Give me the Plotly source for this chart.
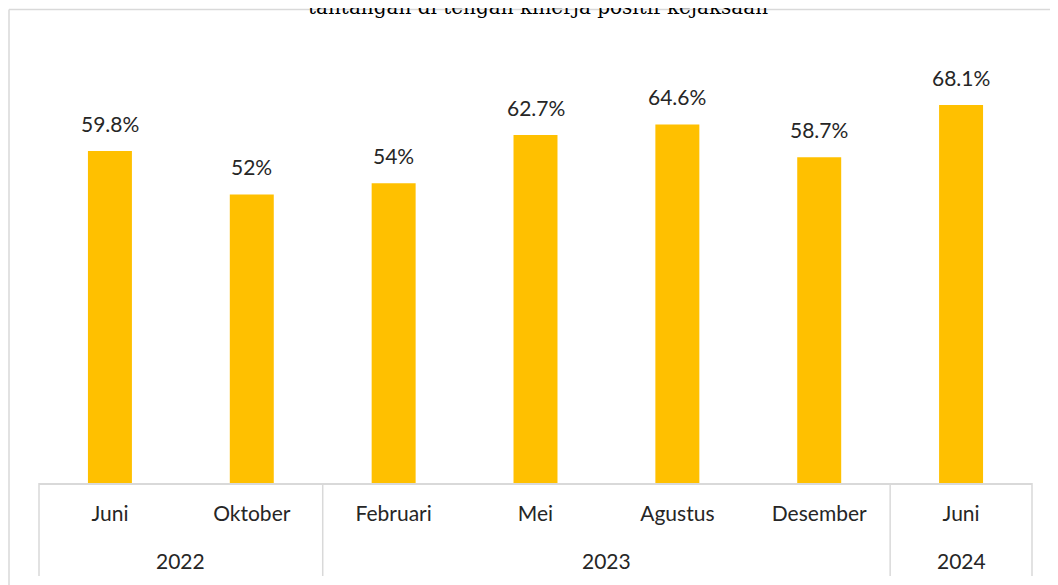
import plotly.graph_objects as go

months = ["Juni", "Oktober", "Februari", "Mei", "Agustus", "Desember", "Juni"]
years = ["2022", "2022", "2023", "2023", "2023", "2023", "2024"]
values = [59.8, 52, 54, 62.7, 64.6, 58.7, 68.1]
title_text = "tantangan di tengah kinerja positif kejaksaan"

labels = [f"{v:g}%" for v in values]
xs = list(range(len(values)))

W, H = 1058, 585
OFF = 8  # page body margin offset
ml, mr, mt, mb = 39 - OFF, 1058 - 1032 + OFF, 39 - OFF, 585 - 483 + OFF
pw, ph = W - ml - mr, H - mt - mb
font_family = "Lato, 'Open Sans', sans-serif"
grid = "#D9D9D9"
txt = "#262626"

fig = go.Figure()
fig.add_trace(go.Bar(x=xs, y=values, marker=dict(color="#FFC000", line=dict(width=0)),
                     width=0.31, hoverinfo="skip"))

# value labels
for x, v, lab in zip(xs, values, labels):
    fig.add_annotation(x=x, y=v, text=lab, showarrow=False, yanchor="bottom",
                       yshift=13, font=dict(family=font_family, size=21, color=txt))

# year groups
groups = []
for i, y in enumerate(years):
    if groups and groups[-1][0] == y:
        groups[-1][2] = i
    else:
        groups.append([y, i, i])

def py_paper(py):  # page pixel -> paper y
    return (H - mb - (py - OFF)) / ph

def px_paper(px):  # page pixel -> paper x
    return ((px - OFF) - ml) / pw

bottom_y = py_paper(576)
bounds = set()
for y, a, b in groups:
    fig.add_annotation(x=(a + b) / 2, y=py_paper(560), yref="paper", text=y,
                       showarrow=False, yanchor="middle",
                       font=dict(family=font_family, size=21, color=txt))
    bounds.add(a - 0.5)
    bounds.add(b + 0.5)

n = len(values)
for bx in sorted(bounds):
    xp = (bx + 0.5) / n
    fig.add_shape(type="line", xref="paper", yref="paper", x0=xp, x1=xp, y0=0, y1=bottom_y,
                  line=dict(color=grid, width=1.5))

# cut-off title (drawn beneath the frame line)
fig.add_annotation(x=px_paper(538), xref="paper", y=py_paper(21), yref="paper", text=title_text,
                   showarrow=False, yanchor="bottom",
                   font=dict(family="DejaVu Serif, serif", size=20, color="#000000"))

# outer chart frame
fig.add_shape(type="line", xref="paper", yref="paper",
              x0=px_paper(9), x1=px_paper(W + 20),
              y0=py_paper(9.5), y1=py_paper(9.5), line=dict(color=grid, width=1.5))
fig.add_shape(type="line", xref="paper", yref="paper",
              x0=px_paper(9), x1=px_paper(9),
              y0=py_paper(9.5), y1=py_paper(H + 30), line=dict(color=grid, width=1.5))

fig.update_layout(
    width=W, height=H,
    margin=dict(l=ml, r=mr, t=mt, b=mb, pad=0),
    plot_bgcolor="white", paper_bgcolor="white",
    showlegend=False,
    xaxis=dict(range=[-0.5, n - 0.5], tickmode="array", tickvals=xs, ticktext=months,
               showgrid=False, zeroline=False, showline=True, linecolor=grid, linewidth=1.5,
               ticks="outside", ticklen=11, tickcolor="rgba(0,0,0,0)",
               tickfont=dict(family=font_family, size=21, color=txt), fixedrange=True),
    yaxis=dict(range=[0, 80], visible=False, fixedrange=True),
)

fig.write_html("out.html")
